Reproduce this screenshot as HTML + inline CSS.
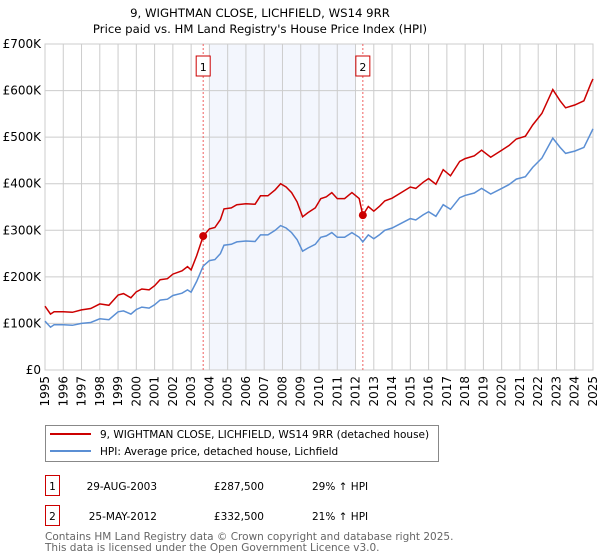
<!DOCTYPE html>
<html><head><meta charset="utf-8">
<style>
body{margin:0;background:#fff;font-family:"DejaVu Sans","Liberation Sans",sans-serif;}
#wrap{position:relative;width:600px;height:560px;overflow:hidden;}
</style></head>
<body><div id="wrap">
<svg id="chart" width="600" height="560" style="position:absolute;left:0;top:0">
</svg>
</div>
<script>
const years=[1995,1995.3,1995.5,1996,1996.5,1997,1997.5,1998,1998.5,1999,1999.3,1999.7,2000,2000.3,2000.7,2001,2001.3,2001.7,2002,2002.5,2002.8,2003.0,2003.3,2003.66,2004,2004.3,2004.6,2004.8,2005.2,2005.5,2006,2006.5,2006.8,2007.2,2007.6,2007.9,2008.2,2008.5,2008.8,2009.1,2009.4,2009.8,2010.1,2010.4,2010.7,2011.0,2011.4,2011.8,2012.2,2012.4,2012.7,2013.0,2013.3,2013.6,2014,2014.5,2015,2015.3,2015.7,2016,2016.4,2016.8,2017.2,2017.7,2018,2018.5,2018.9,2019.4,2020,2020.4,2020.8,2021.3,2021.7,2022.2,2022.8,2023.2,2023.5,2024,2024.5,2024.9,2025.0];
const hpiValues=[105,92,97,97,96,100,102,110,108,125,127,120,130,135,133,140,150,152,160,165,172,167,190,223,235,237,250,268,270,275,277,276,290,290,300,310,305,295,280,255,262,270,285,288,295,285,285,295,285,275,290,282,290,300,305,315,325,322,333,340,330,355,345,370,375,380,390,378,390,398,410,415,435,455,498,478,465,470,478,510,518];
const priceValues=[137,120,125,125,124,129,132,142,139,161,164,155,168,174,172,181,194,196,206,213,222,215,245,287.5,303,306,323,346,348,355,357,356,374,374,387,400,393,381,361,329,338,348,368,372,381,368,368,381,368,332.5,351,341,351,363,369,381,393,390,403,411,399,430,417,448,454,460,472,457,472,482,496,502,526,551,602,578,563,569,578,617,625];
const yTicks=[0,100,200,300,400,500,600,700];
const yTickLabels=["£0","£100K","£200K","£300K","£400K","£500K","£600K","£700K"];
const xTicks=[1995,1996,1997,1998,1999,2000,2001,2002,2003,2004,2005,2006,2007,2008,2009,2010,2011,2012,2013,2014,2015,2016,2017,2018,2019,2020,2021,2022,2023,2024,2025];
const saleYears=[2003.66,2012.4];
const salePrices=[287.5,332.5];
const saleLabels=["1","2"];
const shadeRange=[2004,2012];

const L=45,R=593,T=44,B=370;
const xs=v=>L+(v-1995)/30*(R-L);
const ys=v=>B-v/700*(B-T);
const svg=document.getElementById('chart');
const NS='http://www.w3.org/2000/svg';
function mk(tag,attrs,parent){const e=document.createElementNS(NS,tag);for(const k in attrs)e.setAttribute(k,attrs[k]);(parent||svg).appendChild(e);return e;}

let e=mk('rect',{x:L,y:T,width:R-L,height:B-T,fill:'#fff'});

e=mk('rect',{x:xs(shadeRange[0]),y:T,width:xs(shadeRange[1])-xs(shadeRange[0]),height:B-T,fill:'#eef2fc',opacity:0.7});


xTicks.forEach(t=>{
  const g=mk('line',{x1:xs(t),x2:xs(t),y1:T,y2:B,stroke:'#ccc','stroke-width':1});
  
  const tx=mk('text',{x:0,y:0,'font-size':12,fill:'#000','text-anchor':'end',transform:`translate(${xs(t)+4},${B+6}) rotate(-90)`});
  tx.textContent=t;
  
});
yTicks.forEach((t,i)=>{
  const g=mk('line',{x1:L,x2:R,y1:ys(t),y2:ys(t),stroke:'#ccc','stroke-width':1});
  
  const tx=mk('text',{x:L-4,y:ys(t)+4,'font-size':12,fill:'#000','text-anchor':'end'});
  tx.textContent=yTickLabels[i];
  
});
e=mk('rect',{x:L,y:T,width:R-L,height:B-T,fill:'none',stroke:'#ccc'});


saleYears.forEach((s,i)=>{
  const l=mk('line',{x1:xs(s),x2:xs(s),y1:T,y2:B,stroke:'#f06060','stroke-dasharray':'2,2','stroke-width':1});
  
  const r=mk('rect',{x:xs(s)-7,y:56,width:14,height:20,fill:'#fff',stroke:'#c00'});
  
  const t=mk('text',{x:xs(s),y:71,'font-size':11,'text-anchor':'middle',fill:'#000'});
  t.textContent=saleLabels[i];
  
});

const hp=years.map((y,i)=>`${i?'L':'M'}${xs(y).toFixed(1)},${ys(hpiValues[i]).toFixed(1)}`).join('');
e=mk('path',{d:hp,fill:'none',stroke:'#5b8fd4','stroke-width':1.5});

const pp=years.map((y,i)=>`${i?'L':'M'}${xs(y).toFixed(1)},${ys(priceValues[i]).toFixed(1)}`).join('');
e=mk('path',{d:pp,fill:'none',stroke:'#cc0000','stroke-width':1.5});

saleYears.forEach((s,i)=>{
  const c=mk('circle',{cx:xs(s),cy:ys(salePrices[i]),r:4,fill:'#cc0000'});
  
});

function txt(x,y,s,attrs,name){const t=mk('text',Object.assign({x:x,y:y},attrs));t.textContent=s;return t;}
txt(260,17,"9, WIGHTMAN CLOSE, LICHFIELD, WS14 9RR",{'font-size':11.7,'text-anchor':'middle'},'chart-title');
txt(260,33,"Price paid vs. HM Land Registry's House Price Index (HPI)",{'font-size':11.7,'text-anchor':'middle'},'chart-subtitle');

e=mk('rect',{x:45.5,y:425.5,width:393,height:36,fill:'#fff',stroke:'#888'});

e=mk('line',{x1:50,x2:91,y1:434,y2:434,stroke:'#cc0000','stroke-width':2});

txt(100,438,"9, WIGHTMAN CLOSE, LICHFIELD, WS14 9RR (detached house)",{'font-size':10.5},'legend-price-entry');
e=mk('line',{x1:50,x2:91,y1:451,y2:451,stroke:'#5b8fd4','stroke-width':2});

txt(100,455,"HPI: Average price, detached house, Lichfield",{'font-size':10.5},'legend-hpi-entry');

const rows=[["1","29-AUG-2003","£287,500","29% ↑ HPI"],["2","25-MAY-2012","£332,500","21% ↑ HPI"]];
rows.forEach((r,i)=>{
  const y0=475+i*30;
  const b=mk('rect',{x:45.5,y:y0+0.5,width:14,height:20,fill:'#fff',stroke:'#c00'});
  
  txt(52.5,y0+15,r[0],{'font-size':10.5,'text-anchor':'middle'},'sale-row-number');
  txt(157,y0+15,r[1],{'font-size':10.5,'text-anchor':'end'},'sale-row-date');
  txt(264,y0+15,r[2],{'font-size':10.5,'text-anchor':'end'},'sale-row-price');
  txt(312,y0+15,r[3],{'font-size':10.5},'sale-row-hpi-diff');
});
txt(45,540,"Contains HM Land Registry data © Crown copyright and database right 2025.",{'font-size':10.5,fill:'#666'},'footer-copyright');
txt(45,551,"This data is licensed under the Open Government Licence v3.0.",{'font-size':10.5,fill:'#666'},'footer-licence');
</script>
</body></html>
